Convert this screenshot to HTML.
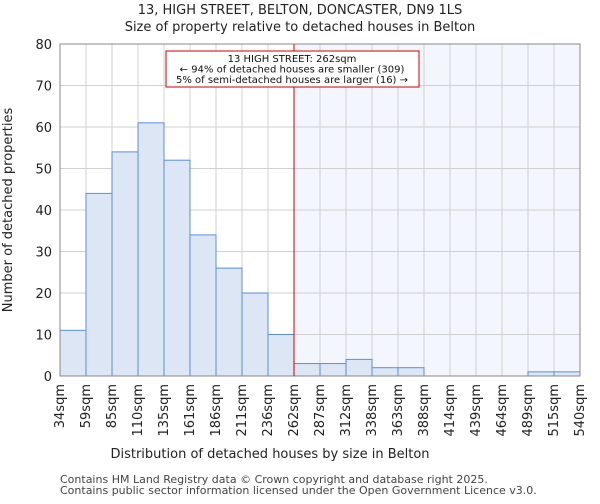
<!DOCTYPE html>
<html><head><meta charset="utf-8"><style>
body{margin:0;background:#fff;font-family:"DejaVu Sans","Liberation Sans",sans-serif}
</style></head><body>
<svg id="c" width="600" height="500" xmlns="http://www.w3.org/2000/svg" font-family="DejaVu Sans, Liberation Sans, sans-serif"></svg>
<script>
const categories=["34sqm","59sqm","85sqm","110sqm","135sqm","161sqm","186sqm","211sqm","236sqm","262sqm","287sqm","312sqm","338sqm","363sqm","388sqm","414sqm","439sqm","464sqm","489sqm","515sqm","540sqm"];
const values=[11,44,54,61,52,34,26,20,10,3,3,4,2,2,0,0,0,0,1,1];
const yTicks=[0,10,20,30,40,50,60,70,80];
const markerIndex=9;
const L=60,R=580,T=44,B=376,yMax=80;
const bw=(R-L)/values.length;
const x=i=>L+i*bw, y=v=>B-(v/yMax)*(B-T);
const s=document.getElementById('c');const NS="http://www.w3.org/2000/svg";
function mk(t,a,txt){const e=document.createElementNS(NS,t);for(const k in a)e.setAttribute(k,a[k]);if(txt!=null)e.textContent=txt;s.appendChild(e);return e;}
let e;
e=mk('rect',{x:x(markerIndex),y:T,width:R-x(markerIndex),height:B-T,fill:'#f3f6fd'});


for(const t of yTicks){e=mk('line',{x1:L,x2:R,y1:y(t),y2:y(t),stroke:'#d0d0d0'});


e=mk('text',{x:L-8,y:y(t)+5,'text-anchor':'end','font-size':13,fill:'#222'},t);

}
for(let i=0;i<categories.length;i++){e=mk('line',{x1:x(i),x2:x(i),y1:T,y2:B,stroke:'#d0d0d0'});


const tx=x(i)+4;
e=mk('text',{x:tx,y:B+8,'text-anchor':'end','font-size':13,fill:'#222',transform:`rotate(-90 ${tx} ${B+8})`},categories[i]);

}
values.forEach((v,i)=>{if(v<=0)return;e=mk('rect',{x:x(i),y:y(v),width:bw,height:B-y(v),fill:'#dce6f5',stroke:'#5b8fd6','stroke-width':1});

});
e=mk('rect',{x:L,y:T,width:R-L,height:B-T,fill:'none',stroke:'#888'});


e=mk('line',{x1:x(markerIndex),x2:x(markerIndex),y1:T,y2:B,stroke:'#cc0000','stroke-width':1});


e=mk('rect',{x:166,y:51,width:253,height:36,fill:'#fff',stroke:'#cc0000'});


const ann=["13 HIGH STREET: 262sqm","← 94% of detached houses are smaller (309)","5% of semi-detached houses are larger (16) →"];
ann.forEach((a,i)=>{e=mk('text',{x:292,y:62+i*10.5,'text-anchor':'middle','font-size':10,fill:'#111'},a);

});
e=mk('text',{x:300,y:14,'text-anchor':'middle','font-size':13,fill:'#222'},"13, HIGH STREET, BELTON, DONCASTER, DN9 1LS");


e=mk('text',{x:300,y:31,'text-anchor':'middle','font-size':13,fill:'#222'},"Size of property relative to detached houses in Belton");


e=mk('text',{x:270,y:458,'text-anchor':'middle','font-size':13,fill:'#222'},"Distribution of detached houses by size in Belton");


e=mk('text',{x:12,y:210,'text-anchor':'middle','font-size':13,fill:'#222',transform:'rotate(-90 12 210)'},"Number of detached properties");


e=mk('text',{x:60,y:483,'font-size':11,fill:'#444'},"Contains HM Land Registry data © Crown copyright and database right 2025.");


e=mk('text',{x:60,y:494,'font-size':11,fill:'#444'},"Contains public sector information licensed under the Open Government Licence v3.0.");


</script>
</body></html>
